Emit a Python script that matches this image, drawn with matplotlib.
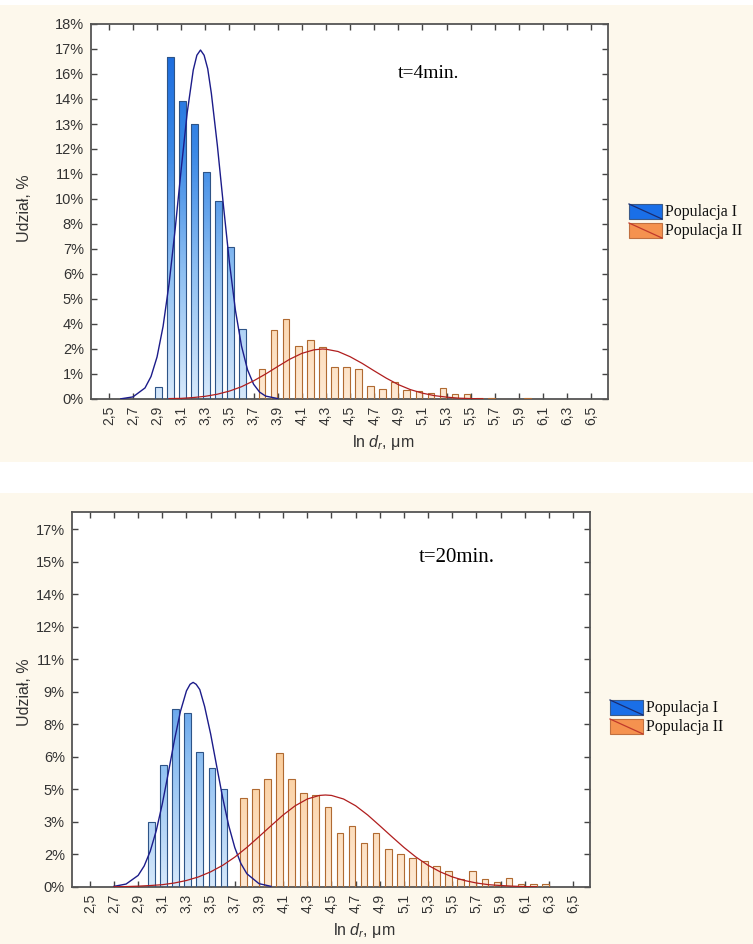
import numpy as np
import matplotlib.pyplot as plt
from matplotlib.patches import Rectangle
from matplotlib.lines import Line2D
from matplotlib.colors import LinearSegmentedColormap

plt.rcParams['font.family'] = ['Liberation Sans', 'DejaVu Sans']
plt.rcParams['mathtext.fontset'] = 'custom'
plt.rcParams['mathtext.it'] = 'Liberation Sans:italic'
plt.rcParams['mathtext.rm'] = 'Liberation Sans'

W, H = 753, 944

# x axis: bin labels
x_ticks = [2.5, 2.7, 2.9, 3.1, 3.3, 3.5, 3.7, 3.9, 4.1, 4.3, 4.5, 4.7,
           4.9, 5.1, 5.3, 5.5, 5.7, 5.9, 6.1, 6.3, 6.5]
x_labels = ['2,5', '2,7', '2,9', '3,1', '3,3', '3,5', '3,7', '3,9', '4,1', '4,3', '4,5',
            '4,7', '4,9', '5,1', '5,3', '5,5', '5,7', '5,9', '6,1', '6,3', '6,5']

# --- t = 4 min ---
top_ymax = 18
top_ylabels = ['0%', '1%', '2%', '4%', '5%', '6%', '7%', '8%', '10%', '11%',
               '12%', '13%', '14%', '16%', '17%', '18%']
top_blue_x = [2.91, 3.01, 3.11, 3.21, 3.31, 3.41, 3.51, 3.61]
top_blue_y = [0.56, 16.4, 14.3, 13.2, 10.9, 9.5, 7.3, 3.35]
top_orange_x = [3.77, 3.87, 3.97, 4.07, 4.17, 4.27, 4.37, 4.47, 4.57, 4.67, 4.77, 4.87,
                4.97, 5.07, 5.17, 5.27, 5.37, 5.47, 5.57, 5.67, 5.77, 5.87, 5.97]
top_orange_y = [1.44, 3.32, 3.83, 2.53, 2.82, 2.48, 1.55, 1.55, 1.44, 0.61, 0.46, 0.80,
                0.42, 0.37, 0.27, 0.54, 0.24, 0.24, 0.05, 0.03, 0.0, 0.0, 0.05]
top_bcurve_x = [2.6, 2.7, 2.8, 2.85, 2.9, 2.95, 3.0, 3.05, 3.1, 3.15, 3.2, 3.23, 3.26, 3.29,
                3.32, 3.35, 3.4, 3.45, 3.5, 3.55, 3.6, 3.65, 3.7, 3.75, 3.8, 3.9]
top_bcurve_y = [0.01, 0.10, 0.53, 1.08, 2.02, 3.49, 5.55, 8.15, 11.03, 13.75, 15.79, 16.50,
                16.75, 16.50, 15.85, 14.67, 12.16, 9.29, 6.54, 4.24, 2.54, 1.40, 0.71, 0.33,
                0.14, 0.02]
top_rcurve_x = [3.0, 3.1, 3.2, 3.3, 3.4, 3.5, 3.6, 3.7, 3.8, 3.9, 4.0, 4.1, 4.2, 4.27,
                4.3, 4.4, 4.5, 4.6, 4.7, 4.8, 4.9, 5.0, 5.1, 5.2, 5.3, 5.4, 5.5, 5.6]
top_rcurve_y = [0.02, 0.03, 0.07, 0.13, 0.23, 0.38, 0.59, 0.87, 1.20, 1.56, 1.91, 2.19,
                2.36, 2.40, 2.39, 2.28, 2.03, 1.71, 1.35, 1.00, 0.69, 0.45, 0.28, 0.16,
                0.09, 0.04, 0.02, 0.01]

# --- t = 20 min ---
bot_ymax = 17
bot_ylabels = ['0%', '2%', '3%', '5%', '6%', '8%', '9%', '11%', '12%', '14%', '15%', '17%']
bot_blue_x = [3.01, 3.11, 3.21, 3.31, 3.41, 3.51, 3.61]
bot_blue_y = [3.10, 5.81, 8.46, 8.28, 6.43, 5.64, 4.67]
bot_orange_x = [3.77, 3.87, 3.97, 4.07, 4.17, 4.27, 4.37, 4.47, 4.57, 4.67, 4.77, 4.87, 4.97,
                5.07, 5.17, 5.27, 5.37, 5.47, 5.57, 5.67, 5.77, 5.87, 5.97, 6.07, 6.17, 6.27]
bot_orange_y = [4.24, 4.67, 5.15, 6.38, 5.15, 4.48, 4.35, 3.80, 2.55, 2.88, 2.07, 2.55, 1.79,
                1.58, 1.39, 1.25, 1.01, 0.76, 0.36, 0.78, 0.36, 0.22, 0.44, 0.13, 0.13, 0.13]
bot_bcurve_x = [2.7, 2.8, 2.9, 2.95, 3.0, 3.05, 3.1, 3.15, 3.2, 3.25, 3.3, 3.33, 3.355, 3.38,
                3.41, 3.45, 3.5, 3.55, 3.6, 3.65, 3.7, 3.75, 3.8, 3.9, 4.0]
bot_bcurve_y = [0.03, 0.14, 0.55, 1.00, 1.70, 2.68, 3.95, 5.43, 6.97, 8.34, 9.32, 9.63, 9.72,
                9.63, 9.38, 8.58, 7.27, 5.74, 4.23, 2.91, 1.87, 1.12, 0.63, 0.16, 0.03]
bot_rcurve_x = [2.7, 2.8, 2.9, 3.0, 3.1, 3.2, 3.3, 3.4, 3.5, 3.6, 3.7, 3.8, 3.9, 4.0, 4.1,
                4.2, 4.3, 4.4, 4.45, 4.5, 4.6, 4.7, 4.8, 4.9, 5.0, 5.1, 5.2, 5.3, 5.4, 5.5,
                5.6, 5.7, 5.8, 5.9, 6.0, 6.1, 6.2]
bot_rcurve_y = [0.01, 0.02, 0.04, 0.07, 0.11, 0.19, 0.31, 0.48, 0.72, 1.03, 1.42, 1.88, 2.39,
                2.91, 3.42, 3.86, 4.18, 4.35, 4.37, 4.35, 4.18, 3.86, 3.42, 2.91, 2.39, 1.88,
                1.42, 1.03, 0.72, 0.48, 0.31, 0.19, 0.11, 0.07, 0.04, 0.02, 0.01]

series_names = ['Populacja I', 'Populacja II']

cream = '#fdf8ec'
blue_cmap = LinearSegmentedColormap.from_list('b', ['#d6e8fb', '#8fc0f2', '#3a88e6', '#1565dc'])
orange_cmap = LinearSegmentedColormap.from_list('o', ['#fee9d4', '#fbcf9f', '#f6a865', '#ee8a3c'])


def axes_rect(l, t, r, b):
    return [l / W, 1 - b / H, (r - l) / W, (b - t) / H]


def grad_bars(ax, xs, hs, ymax, cmap, edge):
    bars = ax.bar(xs, hs, width=0.055, facecolor='none', edgecolor=edge, linewidth=0.8, zorder=3)
    for b, h in zip(bars, hs):
        if h <= 0:
            continue
        x0 = b.get_x()
        grad = np.linspace(0, h / ymax, 64).reshape(-1, 1)
        im = ax.imshow(grad, extent=(x0, x0 + b.get_width(), 0, h), origin='lower',
                       cmap=cmap, vmin=0, vmax=1, aspect='auto', zorder=2,
                       interpolation='bilinear')
        im.set_clip_path(b)


def panel(ax, ymax, ylim_top, ylabels, bx, by, ox, oy, bcx, bcy, rcx, rcy):
    ax.set_facecolor('white')
    grad_bars(ax, bx, by, 18, blue_cmap, '#2e5487')
    grad_bars(ax, ox, oy, 18, orange_cmap, '#b06a32')
    ax.plot(bcx, bcy, color='#1c1c8a', lw=1.0, zorder=4)
    ax.plot(rcx, rcy, color='#b01e1e', lw=0.9, zorder=4)
    ax.set_xlim(2.35, 6.64)
    ax.set_ylim(0, ylim_top)
    ax.set_xticks(x_ticks)
    ax.set_xticklabels(x_labels, rotation=90, fontsize=10, color='#333333')
    ax.set_yticks(np.linspace(0, ymax, len(ylabels)))
    ax.set_yticklabels(ylabels, fontsize=10.5, color='#333333')
    ax.tick_params(axis='both', direction='in', length=4, width=1, color='#444444',
                   top=True, right=True, pad=5)
    for s in ax.spines.values():
        s.set_color('#555555')
        s.set_linewidth(1.3)


def legend(x0, y0):
    cols = [('#1a6fe8', '#1b2c70', '#3b5b8a'), ('#f5924f', '#c0392b', '#c07040')]
    for i, (name, (fc, lc, ec)) in enumerate(zip(series_names, cols)):
        y = y0 + i * 19
        fig.add_artist(Rectangle((x0 / W, 1 - (y + 15) / H), 33 / W, 15 / H,
                                 transform=fig.transFigure, facecolor=fc, edgecolor=ec, lw=0.8))
        fig.add_artist(Line2D([x0 / W, (x0 + 33) / W], [1 - y / H, 1 - (y + 15) / H],
                              transform=fig.transFigure, color=lc, lw=0.9))
        fig.text((x0 + 36) / W, 1 - (y + 8) / H, name, family='Liberation Serif',
                 fontsize=11.5, va='center', ha='left', color='#111111')


fig = plt.figure(figsize=(W / 100, H / 100), dpi=100, facecolor='white')
fig.add_artist(Rectangle((0, 1 - 462 / H), 1, 457 / H, transform=fig.transFigure,
                         facecolor=cream, edgecolor='none', zorder=-10))
fig.add_artist(Rectangle((0, 0), 1, (H - 493) / H, transform=fig.transFigure,
                         facecolor=cream, edgecolor='none', zorder=-10))

ax1 = fig.add_axes(axes_rect(90.7, 24, 608.3, 399))
panel(ax1, top_ymax, 18, top_ylabels, top_blue_x, top_blue_y, top_orange_x, top_orange_y,
      top_bcurve_x, top_bcurve_y, top_rcurve_x, top_rcurve_y)
ax1.set_ylabel('Udział, %', fontsize=11.5, color='#333333')
ax1.yaxis.set_label_coords(-0.114, 0.51)
ax1.set_xlabel(r'ln $d_r$, μm', fontsize=11.5, color='#333333')
ax1.xaxis.set_label_coords(0.565, -0.09)
fig.text(398 / W, 1 - 73 / H, 't=4min.', family='Liberation Serif', fontsize=14, va='center')

ax2 = fig.add_axes(axes_rect(71.7, 512.3, 590, 887))
panel(ax2, bot_ymax, 17.8, bot_ylabels, bot_blue_x, bot_blue_y, bot_orange_x, bot_orange_y,
      bot_bcurve_x, bot_bcurve_y, bot_rcurve_x, bot_rcurve_y)
ax2.set_ylabel('Udział, %', fontsize=11.5, color='#333333')
ax2.yaxis.set_label_coords(-0.077, 0.52)
ax2.set_xlabel(r'ln $d_r$, μm', fontsize=11.5, color='#333333')
ax2.xaxis.set_label_coords(0.564, -0.09)
fig.text(419 / W, 1 - 558 / H, 't=20min.', family='Liberation Serif', fontsize=15, va='center')

legend(629, 204)
legend(610, 700)

fig.savefig('out.png', dpi=100, facecolor=fig.get_facecolor())
